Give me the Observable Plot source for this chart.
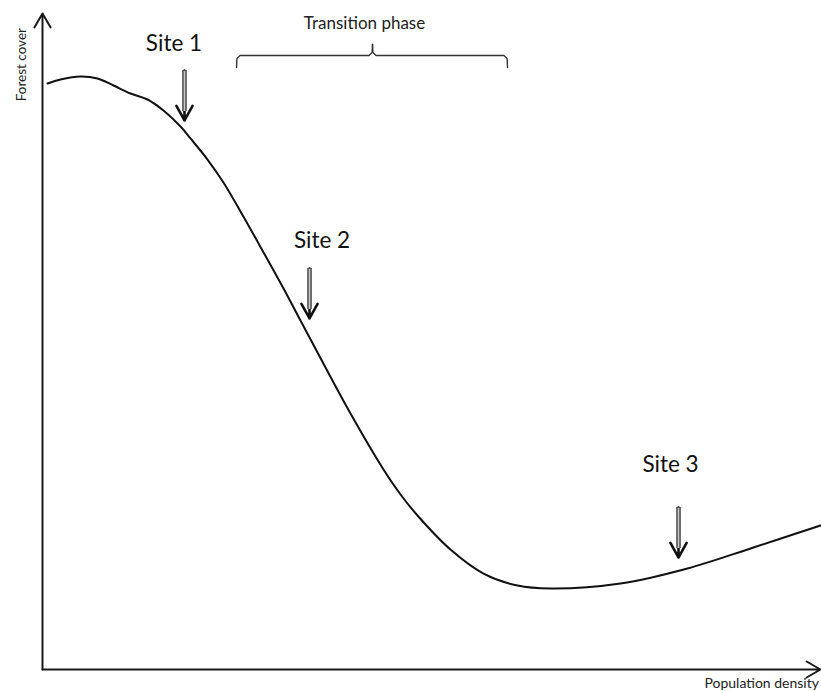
<!DOCTYPE html>
<html>
<head>
<meta charset="utf-8">
<script src="https://cdn.jsdelivr.net/npm/d3@7"></script>
<script src="https://cdn.jsdelivr.net/npm/@observablehq/plot@0.6"></script>
<style>
  html, body { margin: 0; padding: 0; background: #fff; overflow: hidden; }
  #chart svg { display: block; }
</style>
</head>
<body>
<div id="chart"></div>
<script>
// Curve: population density (x, 0–100) vs forest cover (y, 0–100)
const curveX = [0.64, 2.31, 4.88, 7.07, 9.13, 11.31, 13.50, 15.55, 17.74, 19.02, 21.21, 23.26, 25.45, 27.63, 30.98, 33.16, 35.35, 39.59, 43.83, 46.02, 48.20, 52.44, 56.68, 61.05, 65.30, 74.29, 82.90, 91.39, 100];
const curveY = [89.33, 89.94, 90.40, 90.09, 89.02, 87.80, 86.89, 85.21, 82.77, 80.95, 77.74, 74.24, 69.82, 65.24, 58.08, 53.20, 48.32, 39.02, 30.49, 26.68, 23.48, 18.29, 14.63, 12.80, 12.35, 13.11, 15.40, 18.60, 21.95];

// Site annotations
const siteNames = ["Site 1", "Site 2", "Site 3"];
const siteArrowX = [18.25, 34.32, 81.75];
const siteArrowTop = [91.31, 61.13, 24.70];
const siteArrowTip = [83.69, 53.51, 17.07];
const siteLabelX = [16.9, 35.93, 80.72];
const siteLabelY = [95.43, 65.35, 31.14];

// Transition phase brace
const braceStart = 24.94, braceEnd = 59.77, braceMid = 42.42;
const braceFoot = 91.77, braceBar = 93.60, braceTip = 95.27;
const braceLabel = "Transition phase";
const braceLabelY = 98.45;

// Axis titles
const yTitle = "Forest cover";
const xTitle = "Population density";

const curve = curveX.map((x, i) => ({x, y: curveY[i]}));
const sites = siteNames.map((name, i) => ({
  name, ax: siteArrowX[i], top: siteArrowTop[i], tip: siteArrowTip[i],
  lx: siteLabelX[i], ly: siteLabelY[i]
}));
const dxs = 0.45, dys = 0.45;
const braceLeft = [
  {x: braceStart, y: braceFoot}, {x: braceStart + 0.05, y: braceBar - dys}, {x: braceStart + dxs, y: braceBar},
  {x: braceMid - dxs, y: braceBar}, {x: braceMid - 0.05, y: braceBar + dys}, {x: braceMid, y: braceTip}
].map(d => ({...d, side: "L"}));
const braceRight = [
  {x: braceEnd, y: braceFoot}, {x: braceEnd - 0.05, y: braceBar - dys}, {x: braceEnd - dxs, y: braceBar},
  {x: braceMid + dxs, y: braceBar}, {x: braceMid + 0.05, y: braceBar + dys}, {x: braceMid, y: braceTip}
].map(d => ({...d, side: "R"}));
const brace = braceLeft.concat(braceRight);

const font = "Lato, 'Open Sans', sans-serif";

const chart = Plot.plot({
  width: 821,
  height: 691,
  marginLeft: 42,
  marginRight: 1,
  marginTop: 13,
  marginBottom: 22,
  x: {domain: [0, 100], axis: null},
  y: {domain: [0, 100], axis: null},
  style: {fontFamily: font, background: "#fff", overflow: "hidden"},
  marks: [
    // axes with arrowheads
    Plot.arrow([{x1: 0, y1: 0, x2: 0, y2: 100}], {x1: "x1", y1: "y1", x2: "x2", y2: "y2", stroke: "#1a1a1a", strokeWidth: 2, headLength: 12, headAngle: 60}),
    Plot.arrow([{x1: 0, y1: 0, x2: 100, y2: 0}], {x1: "x1", y1: "y1", x2: "x2", y2: "y2", stroke: "#1a1a1a", strokeWidth: 2, headLength: 12, headAngle: 60}),
    // curve
    Plot.line(curve, {x: "x", y: "y", curve: "catmull-rom", stroke: "#111", strokeWidth: 2}),
    // site arrows: chevron head
    Plot.arrow(sites, {x1: "ax", y1: "top", x2: "ax", y2: "tip", stroke: "#111", strokeWidth: 2.6, headLength: 15, headAngle: 58}),
    // double-line shaft
    Plot.ruleX(sites, {x: "ax", y1: "top", y2: "tip", insetBottom: 9, stroke: "#4a4a4a", strokeWidth: 4.6}),
    Plot.ruleX(sites, {x: "ax", y1: "top", y2: "tip", insetBottom: 9, insetTop: 1, stroke: "#c8c8c8", strokeWidth: 1.6}),
    // site labels
    Plot.text(sites, {x: "lx", y: "ly", text: "name", fontSize: 22.5, fill: "#111", textAnchor: "middle", lineAnchor: "middle"}),
    // brace
    Plot.line(brace, {x: "x", y: "y", z: "side", stroke: "#333", strokeWidth: 1.4}),
    Plot.text([braceLabel], {x: braceMid - 1.03, y: braceLabelY, text: d => d, fontSize: 17, fill: "#222", textAnchor: "middle", lineAnchor: "middle"}),
    // axis titles
    Plot.text([yTitle], {x: -2.7, y: 92.2, text: d => d, rotate: -90, fontSize: 13.5, fill: "#222", textAnchor: "middle", lineAnchor: "middle"}),
    Plot.text([xTitle], {x: 99.8, y: -2.13, text: d => d, fontSize: 14, fill: "#222", textAnchor: "end", lineAnchor: "middle"})
  ]
});
document.getElementById("chart").appendChild(chart);
</script>
</body>
</html>
